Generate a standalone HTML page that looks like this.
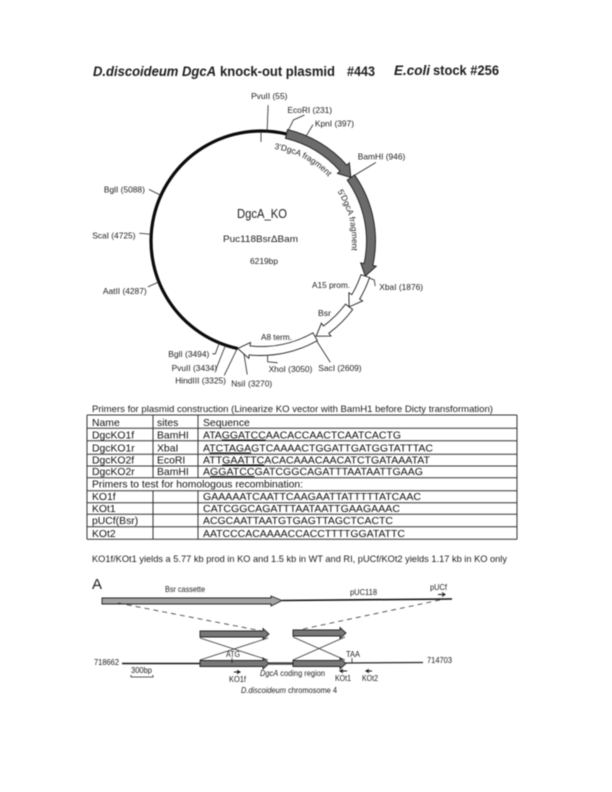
<!DOCTYPE html>
<html lang="en">
<head>
<meta charset="utf-8">
<title>D.discoideum DgcA knock-out plasmid #443</title>
<style>
  html, body { margin: 0; padding: 0; background: #fff; }
  #page { display: block; width: 612px; height: 792px; filter: blur(0.45px); }
  text { font-family: "Liberation Sans", sans-serif; fill: #1c1c1c; }
  .lbl { font-size: 8.4px; }
  .seq { font-size: 10.4px; fill: #111; }
  .grid { stroke: #333; stroke-width: 1; fill: none; }
  .u { text-decoration: underline; }
  .frag { stroke: #222; stroke-width: .9; }
</style>
</head>
<body>
<svg id="page" xmlns="http://www.w3.org/2000/svg" width="612" height="792" viewBox="0 0 612 792">
  <rect x="0" y="0" width="612" height="792" fill="#fff"/>

  <g font-weight="bold" font-size="13.6">
    <text x="93" y="76" font-style="italic" textLength="123" lengthAdjust="spacingAndGlyphs">D.discoideum DgcA</text>
    <text x="220" y="76" textLength="115" lengthAdjust="spacingAndGlyphs">knock-out plasmid</text>
    <text x="347" y="76" textLength="28" lengthAdjust="spacingAndGlyphs">#443</text>
    <text x="394" y="75" font-style="italic" textLength="36" lengthAdjust="spacingAndGlyphs">E.coli</text>
    <text x="433" y="75" textLength="66" lengthAdjust="spacingAndGlyphs">stock #256</text>
  </g>

  <g id="plasmid-map"></g>

  <text x="237" y="218" font-size="12.5" textLength="50" lengthAdjust="spacingAndGlyphs">DgcA_KO</text>
  <text x="223" y="242" font-size="9.6" textLength="75" lengthAdjust="spacingAndGlyphs">Puc118BsrΔBam</text>
  <text x="250" y="264" font-size="8.4" textLength="28" lengthAdjust="spacingAndGlyphs">6219bp</text>
  <text class="lbl" x="312" y="288" textLength="38" lengthAdjust="spacingAndGlyphs">A15 prom.</text>
  <text class="lbl" x="318" y="316" textLength="13" lengthAdjust="spacingAndGlyphs">Bsr</text>
  <text class="lbl" x="261" y="340" textLength="31" lengthAdjust="spacingAndGlyphs">A8 term.</text>

  <text x="92" y="412" font-size="9.4" textLength="401" lengthAdjust="spacingAndGlyphs">Primers for plasmid construction (Linearize  KO vector with BamH1 before Dicty transformation)</text>

  <g>
    <path class="grid" d="M87 415H517M87 428.3H517M87 440.7H517M87 454.3H517M87 466H517M87 477.7H517M87 490.7H517M87 502.7H517M87 514.3H517M87 526.7H517M87 539.3H517M87 415V539.3M517 415V539.3M153 415V477.7M198 415V477.7M153 490.7V539.3M198 490.7V539.3"/>
    <g class="seq">
      <text class="seq" x="92" y="426">Name</text>
      <text class="seq" x="157" y="426">sites</text>
      <text class="seq" x="203" y="426">Sequence</text>

      <text class="seq" x="92" y="438.5">DgcKO1f</text>
      <text class="seq" x="157" y="438.5">BamHI</text>
      <text class="seq" x="203" y="438.5" textLength="198" lengthAdjust="spacingAndGlyphs">ATA<tspan class="u">GGATCC</tspan>AACACCAACTCAATCACTG</text>

      <text class="seq" x="92" y="451.5">DgcKO1r</text>
      <text class="seq" x="157" y="451.5">XbaI</text>
      <text class="seq" x="203" y="451.5" textLength="230" lengthAdjust="spacingAndGlyphs">A<tspan class="u">TCTAGA</tspan>GTCAAAACTGGATTGATGGTATTTAC</text>

      <text class="seq" x="92" y="463.5">DgcKO2f</text>
      <text class="seq" x="157" y="463.5">EcoRI</text>
      <text class="seq" x="203" y="463.5" textLength="227" lengthAdjust="spacingAndGlyphs">ATT<tspan class="u">GAATTC</tspan>ACACAAACAACATCTGATAAATAT</text>

      <text class="seq" x="92" y="475">DgcKO2r</text>
      <text class="seq" x="157" y="475">BamHI</text>
      <text class="seq" x="203" y="475" textLength="220" lengthAdjust="spacingAndGlyphs">A<tspan class="u">GGATCC</tspan>GATCGGCAGATTTAATAATTGAAG</text>

      <text class="seq" x="92" y="487.5" textLength="211" lengthAdjust="spacingAndGlyphs">Primers to test for homologous recombination:</text>

      <text class="seq" x="92" y="500">KO1f</text>
      <text class="seq" x="203" y="500" textLength="218" lengthAdjust="spacingAndGlyphs">GAAAAATCAATTCAAGAATTATTTTTATCAAC</text>

      <text class="seq" x="92" y="512">KOt1</text>
      <text class="seq" x="203" y="512" textLength="197" lengthAdjust="spacingAndGlyphs">CATCGGCAGATTTAATAATTGAAGAAAC</text>

      <text class="seq" x="92" y="524">pUCf(Bsr)</text>
      <text class="seq" x="203" y="524" textLength="190" lengthAdjust="spacingAndGlyphs">ACGCAATTAATGTGAGTTAGCTCACTC</text>

      <text class="seq" x="92" y="537">KOt2</text>
      <text class="seq" x="203" y="537" textLength="202" lengthAdjust="spacingAndGlyphs">AATCCCACAAAACCACCTTTTGGATATTC</text>
    </g>
  </g>

  <text x="92" y="562" font-size="9.4" textLength="415" lengthAdjust="spacingAndGlyphs">KO1f/KOt1 yields a 5.77 kb prod in KO and 1.5 kb in WT and RI, pUCf/KOt2 yields 1.17 kb in KO only</text>

  <g>
    <text x="92" y="589" font-size="15">A</text>
    <text class="lbl" x="165" y="592" textLength="40" lengthAdjust="spacingAndGlyphs">Bsr cassette</text>
    <path d="M282 600.5L452 599" stroke="#111" stroke-width="1.6" fill="none"/>
    <path class="frag" d="M102 598H271V596L282 600.5L271 606V604H102Z" fill="#a3a3a3"/>
    <text class="lbl" x="350" y="595" textLength="27" lengthAdjust="spacingAndGlyphs">pUC118</text>
    <text class="lbl" x="430" y="590" textLength="17" lengthAdjust="spacingAndGlyphs">pUCf</text>
    <path d="M438 594.5H444M442 592.5L445 594.5L442 596.5" stroke="#111" stroke-width="1" fill="none"/>

    <path d="M118 603L262 631" stroke="#333" stroke-width=".8" stroke-dasharray="5 4" fill="none"/>
    <path d="M440 600L303 629" stroke="#333" stroke-width=".8" stroke-dasharray="5 4" fill="none"/>

    <path class="frag" d="M200 631H263V628.5L269 634L263 639.5V637H200Z" fill="#777"/>
    <path class="frag" d="M293 630H340V627.5L346 633L340 638.5V636H293Z" fill="#777"/>
    <path d="M200 638L268 660M200 660L268 638" stroke="#333" stroke-width=".8" fill="none"/>
    <path d="M293 637L345 660M293 660L345 637" stroke="#333" stroke-width=".8" fill="none"/>

    <path d="M122 663.5H200" stroke="#111" stroke-width="1.6" fill="none"/>
    <path d="M269 663.5H293" stroke="#444" stroke-width="2.4" fill="none"/>
    <path d="M346 663L423 662.5" stroke="#222" stroke-width="1.2" fill="none"/>
    <path class="frag" d="M200 660.5H263V658L269 663.5L263 669V666.5H200Z" fill="#777"/>
    <path class="frag" d="M293 660.5H340V658L346 663.5L340 669V666.5H293Z" fill="#777"/>

    <text class="lbl" x="226" y="657" textLength="14" lengthAdjust="spacingAndGlyphs">ATG</text>
    <path d="M232 658V663" stroke="#222" stroke-width=".8"/>
    <text class="lbl" x="346" y="657" textLength="14" lengthAdjust="spacingAndGlyphs">TAA</text>
    <path d="M352 658V663" stroke="#222" stroke-width=".8"/>
    <text class="lbl" x="94" y="665" textLength="25" lengthAdjust="spacingAndGlyphs">718662</text>
    <text class="lbl" x="427" y="663" textLength="25" lengthAdjust="spacingAndGlyphs">714703</text>
    <text class="lbl" x="131" y="673" textLength="21" lengthAdjust="spacingAndGlyphs">300bp</text>
    <path d="M131 675V677H153V675" stroke="#222" stroke-width=".8" fill="none"/>

    <path d="M234 672H239M237 670.3L240 672L237 673.7" stroke="#111" stroke-width="1" fill="none"/>
    <text class="lbl" x="229" y="682" textLength="17" lengthAdjust="spacingAndGlyphs">KO1f</text>
    <path d="M347 671H341M343 669.3L340 671L343 672.7" stroke="#111" stroke-width="1" fill="none"/>
    <text class="lbl" x="335" y="681" textLength="16" lengthAdjust="spacingAndGlyphs">KOt1</text>
    <path d="M372 671H367M369 669.3L366 671L369 672.7" stroke="#111" stroke-width="1" fill="none"/>
    <text class="lbl" x="362" y="681" textLength="16" lengthAdjust="spacingAndGlyphs">KOt2</text>

    <text class="lbl" x="260" y="676" textLength="65" lengthAdjust="spacingAndGlyphs"><tspan font-style="italic">DgcA</tspan> coding region</text>
    <text class="lbl" x="241" y="693" textLength="96" lengthAdjust="spacingAndGlyphs"><tspan font-style="italic">D.discoideum</tspan> chromosome 4</text>
  </g>
</svg>

<script>
// Plasmid data
const plasmidSizeBp = 6219;
const siteEnzymes = ["PvuII", "EcoRI", "KpnI", "BamHI", "XbaI", "SacI", "XhoI", "NsiI", "HindIII", "PvuII", "BglI", "AatII", "ScaI", "BglI"];
const sitePositionsBp = [55, 231, 397, 946, 1876, 2609, 3050, 3270, 3325, 3434, 3494, 4287, 4725, 5088];
const featureNames = ["3'DgcA fragment", "5'DgcA fragment", "A15 prom.", "Bsr", "A8 term."];
const featureStartsBp = [231, 946, 1876, 2190, 2600];
const featureEndsBp = [946, 1876, 2190, 2590, 3320];
const backboneStartBp = 3320;
const backboneEndBp = 231;

const SVG_NS = "http://www.w3.org/2000/svg";
const mapGroup = document.getElementById("plasmid-map");
const cx = 261, cy = 241, R = 110;

// Layout only: leader bends and label anchors relative to each site's point on the circle, by site index
function leaderBends(i) {
  switch (i) {
    case 0: return [[1, -26]];
    case 1: return [[7, -14], [18, -19]];
    case 2: return [[9, -15]];
    case 3: return [[25, -15]];
    case 4: return [[9, 4], [10, 10]];
    case 5: return [[16, 25]];
    case 6: return [[0, 11], [10, 12]];
    case 7: return [[4, 25]];
    case 8: return [[-13, 27]];
    case 9: return [[-10, 25]];
    case 10: return [[-4, 11], [-7, 11]];
    case 11: return [[-11, 5]];
    case 12: return [[-12, -1]];
    default: return [[-12, -6]];
  }
}
function labelAnchor(i) {
  switch (i) {
    case 0: return [-16, -32];
    case 1: return [1, -21];
    case 2: return [11, -13];
    case 3: return [7, -18];
    case 4: return [14, 14];
    case 5: return [4, 34];
    case 6: return [1, 21];
    case 7: return [-12, 37];
    case 8: return [-62, 35];
    case 9: return [-54, 26];
    case 10: return [-51, 14];
    case 11: return [-56, 12];
    case 12: return [-59, 4];
    default: return [-57, -3];
  }
}

function angleOf(bp) { return (bp / plasmidSizeBp) * 2 * Math.PI; }
function polar(r, a) { return [cx + r * Math.sin(a), cy - r * Math.cos(a)]; }
function fmt(p) { return p[0].toFixed(2) + " " + p[1].toFixed(2); }
function arcTo(r, a0, a1) {
  const large = Math.abs(a1 - a0) > Math.PI ? 1 : 0;
  const sweep = a1 > a0 ? 1 : 0;
  return "A" + r + " " + r + " 0 " + large + " " + sweep + " " + fmt(polar(r, a1));
}
function makeEl(tag) { return document.createElementNS(SVG_NS, tag); }

// Backbone
const backbone = makeEl("path");


const bbA0 = angleOf(backboneStartBp);
const bbA1 = angleOf(backboneEndBp) + 2 * Math.PI;
backbone.setAttribute("d", "M" + fmt(polar(R, bbA0)) + arcTo(R, bbA0, bbA1));
backbone.setAttribute("fill", "none");
backbone.setAttribute("stroke", "#0a0a0a");
backbone.setAttribute("stroke-width", "3.2");
mapGroup.appendChild(backbone);

// Origin tick
const originTick = makeEl("path");


originTick.setAttribute("d", "M" + fmt(polar(R, 0)) + "L" + fmt(polar(R - 11, 0)));
originTick.setAttribute("stroke", "#222");
originTick.setAttribute("stroke-width", "0.8");
mapGroup.appendChild(originTick);

// Restriction sites
siteEnzymes.forEach(function (enzyme, i) {
  const bp = sitePositionsBp[i];
  const base = polar(R, angleOf(bp));
  let d = "M" + fmt(base);
  leaderBends(i).forEach(function (o) {
    d += "L" + fmt([base[0] + o[0], base[1] + o[1]]);
  });
  const leader = makeEl("path");
  
  
  leader.setAttribute("d", d);
  leader.setAttribute("fill", "none");
  leader.setAttribute("stroke", "#222");
  leader.setAttribute("stroke-width", "0.8");
  mapGroup.appendChild(leader);

  const anchor = labelAnchor(i);
  const label = makeEl("text");
  
  
  label.setAttribute("class", "lbl");
  label.setAttribute("x", (base[0] + anchor[0]).toFixed(1));
  label.setAttribute("y", (base[1] + anchor[1]).toFixed(1));
  label.textContent = enzyme + " (" + bp + ")";
  mapGroup.appendChild(label);
});

// Feature arrows
featureNames.forEach(function (name, i) {
  const a0 = angleOf(featureStartsBp[i]);
  const a1 = angleOf(featureEndsBp[i]);
  const w = 4.5, hw = 8, headPx = 12;
  const aNeck = a1 - headPx / R;
  const d = "M" + fmt(polar(R + w, a0)) + arcTo(R + w, a0, aNeck) +
    "L" + fmt(polar(R + hw, aNeck)) +
    "L" + fmt(polar(R, a1)) +
    "L" + fmt(polar(R - hw, aNeck)) +
    "L" + fmt(polar(R - w, aNeck)) +
    arcTo(R - w, aNeck, a0) + "Z";
  const arrow = makeEl("path");
  
  
  arrow.setAttribute("d", d);
  arrow.setAttribute("fill", i < 2 ? "#6b6b6b" : "#fff");
  arrow.setAttribute("stroke", "#1a1a1a");
  arrow.setAttribute("stroke-width", "0.9");
  mapGroup.appendChild(arrow);
});

// Curved labels for the two DgcA fragments
const defs = makeEl("defs");
mapGroup.appendChild(defs);
[0, 1].forEach(function (i) {
  const radius = i === 0 ? 93 : 91;
  const start = angleOf(featureStartsBp[i]) + (i === 0 ? -0.09 : 0.04);
  const pathEl = makeEl("path");
  pathEl.setAttribute("id", "curved-label-path-" + i);
  pathEl.setAttribute("d", "M" + fmt(polar(radius, start)) + arcTo(radius, start, start + 1.4));
  defs.appendChild(pathEl);

  const t = makeEl("text");
  
  
  t.setAttribute("class", "lbl");
  const tp = makeEl("textPath");
  tp.setAttribute("href", "#curved-label-path-" + i);
  tp.textContent = featureNames[i];
  t.appendChild(tp);
  mapGroup.appendChild(t);
});
</script>
</body>
</html>
